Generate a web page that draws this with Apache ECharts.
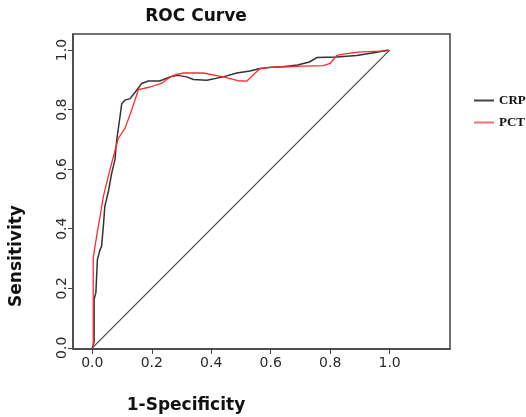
<!DOCTYPE html>
<html><head><meta charset="utf-8">
<script src="https://cdn.jsdelivr.net/npm/echarts@6/dist/echarts.min.js"></script>
<style>html,body{margin:0;padding:0;background:#fff}#c{width:526px;height:417px}</style>
</head><body><div id="c"></div>
<script>
const crpX = [0, 0.006, 0.006, 0.012, 0.017, 0.017, 0.026, 0.031, 0.037, 0.042, 0.054, 0.065, 0.076, 0.082, 0.093, 0.099, 0.110, 0.127, 0.149, 0.166, 0.188, 0.227, 0.261, 0.289, 0.317, 0.340, 0.385, 0.440, 0.486, 0.530, 0.564, 0.600, 0.640, 0.690, 0.730, 0.755, 0.822, 0.889, 0.957, 0.996];
const crpY = [0, 0.02, 0.162, 0.186, 0.190, 0.296, 0.330, 0.340, 0.408, 0.475, 0.525, 0.586, 0.631, 0.698, 0.776, 0.820, 0.832, 0.837, 0.865, 0.888, 0.896, 0.896, 0.910, 0.915, 0.910, 0.901, 0.899, 0.910, 0.923, 0.930, 0.938, 0.942, 0.944, 0.950, 0.960, 0.975, 0.977, 0.982, 0.993, 1.0];
const pctX = [0.003, 0.003, 0.009, 0.020, 0.026, 0.037, 0.048, 0.059, 0.068, 0.087, 0.110, 0.132, 0.155, 0.194, 0.233, 0.250, 0.272, 0.306, 0.373, 0.440, 0.490, 0.520, 0.564, 0.600, 0.660, 0.706, 0.777, 0.800, 0.822, 0.850, 0.895, 0.990, 1.0];
const pctY = [0, 0.302, 0.341, 0.408, 0.441, 0.508, 0.553, 0.597, 0.631, 0.703, 0.737, 0.798, 0.867, 0.876, 0.888, 0.901, 0.915, 0.923, 0.923, 0.910, 0.897, 0.896, 0.938, 0.942, 0.944, 0.946, 0.948, 0.955, 0.982, 0.987, 0.993, 0.997, 0.998];
const diagX = [0, 1];
const diagY = [0, 1];
const xTicks = [0, 0.2, 0.4, 0.6, 0.8, 1.0];
const yTicks = [0, 0.2, 0.4, 0.6, 0.8, 1.0];
const seriesNames = ['CRP', 'PCT'];

const zip = (a, b) => a.map((v, i) => [v, b[i]]);
const chart = echarts.init(document.getElementById('c'), null, {renderer: 'canvas'});
const labelFont = {fontFamily: 'DejaVu Sans', fontSize: 14, color: '#2a2a2a'};
chart.setOption({
  animation: false,
  backgroundColor: '#fff',
  grid: {left: 73, right: 76, top: 34, bottom: 68, show: true, borderColor: '#444', borderWidth: 1.5, containLabel: false},
  xAxis: {
    type: 'value', min: -0.065, max: 1.203,
    axisLine: {show: true, onZero: false, lineStyle: {color: '#444', width: 1.5}},
    axisTick: {show: true, length: 5, customValues: xTicks, lineStyle: {color: '#444'}},
    axisLabel: Object.assign({customValues: xTicks, margin: 7, formatter: v => v.toFixed(1)}, labelFont),
    splitLine: {show: false}
  },
  yAxis: {
    type: 'value', min: -0.004, max: 1.054,
    axisLine: {show: true, onZero: false, lineStyle: {color: '#444', width: 1.5}},
    axisTick: {show: true, length: 5, customValues: yTicks, lineStyle: {color: '#444'}},
    axisLabel: Object.assign({customValues: yTicks, rotate: 90, margin: 4, formatter: v => v.toFixed(1)}, labelFont),
    splitLine: {show: false}
  },
  legend: {
    orient: 'vertical', left: 474, top: 94, itemWidth: 20, itemHeight: 2, itemGap: 9, padding: 0,
    icon: 'rect',
    data: seriesNames,
    textStyle: {fontFamily: 'Liberation Serif', fontWeight: 'bold', fontSize: 13, color: '#111'}
  },
  graphic: [
    {type: 'text', style: {text: 'ROC Curve', x: 196, y: 17, align: 'center', verticalAlign: 'middle', fontFamily: 'DejaVu Sans', fontWeight: 'bold', fontSize: 17, fill: '#111'}},
    {type: 'text', style: {text: '1-Specificity', x: 186, y: 406, align: 'center', verticalAlign: 'middle', fontFamily: 'DejaVu Sans', fontWeight: 'bold', fontSize: 17, fill: '#111'}},
    {type: 'text', x: 17, y: 256, rotation: Math.PI / 2, style: {text: 'Sensitivity', x: 0, y: 0, align: 'center', verticalAlign: 'middle', fontFamily: 'DejaVu Sans', fontWeight: 'bold', fontSize: 17, fill: '#111'}}
  ],
  series: [
    {name: 'diag', type: 'line', data: zip(diagX, diagY), symbol: 'none', silent: true, lineStyle: {color: '#444', width: 1.2}, z: 1},
    {name: 'CRP', type: 'line', data: zip(crpX, crpY), symbol: 'none', color: '#444', lineStyle: {color: '#333', width: 1.5}, z: 2},
    {name: 'PCT', type: 'line', data: zip(pctX, pctY), symbol: 'none', color: '#ff6a6a', lineStyle: {color: '#ff2b2b', width: 1.3}, z: 3}
  ]
});
</script></body></html>
